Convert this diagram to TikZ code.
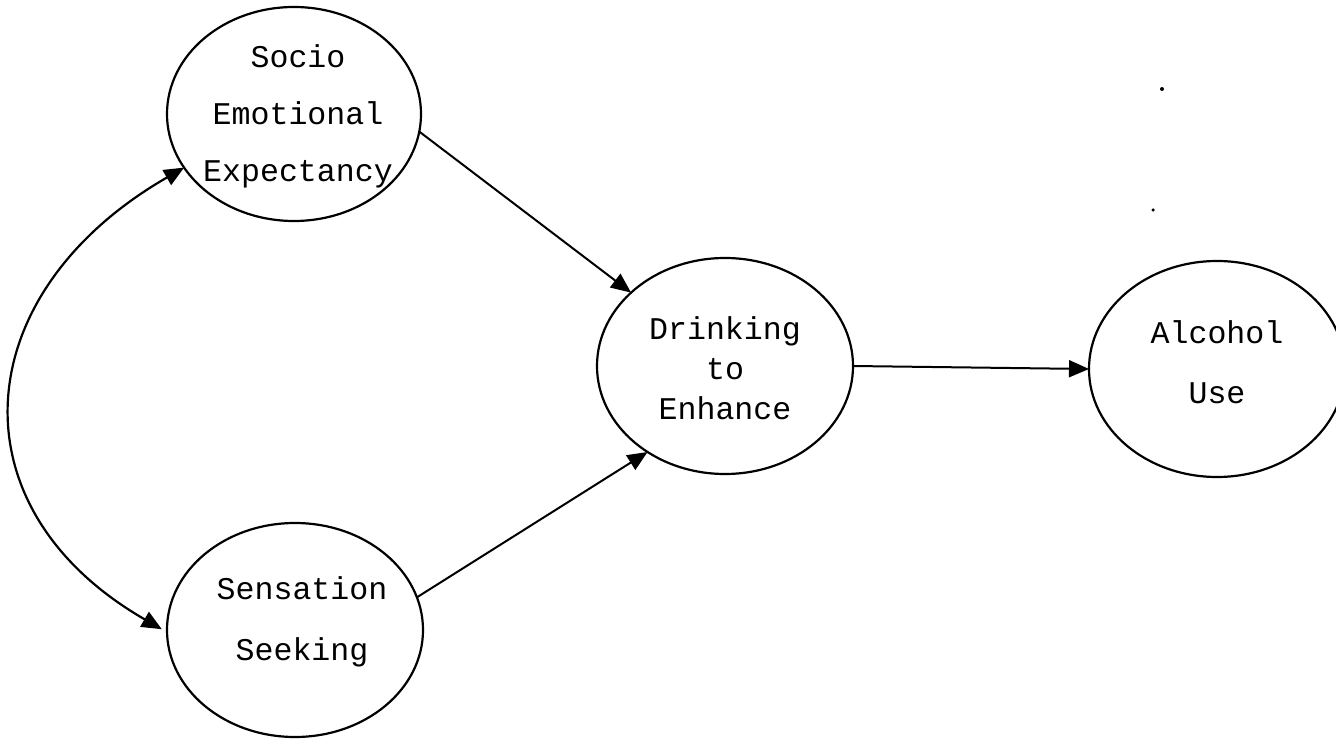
\documentclass[tikz,border=0pt]{standalone}
\usepackage{fontspec}
\setmonofont{Liberation Mono}
\usetikzlibrary{shapes.geometric,arrows.meta}
\begin{document}
\begin{tikzpicture}[x=1pt,y=1pt,
  construct/.style={draw, ellipse, line width=2.2pt, inner sep=0pt, outer sep=0pt,
    minimum width=256pt, minimum height=214pt},
  caption/.style={align=center, font=\ttfamily\fontsize{31.6}{57}\selectfont},
  path/.style={line width=2pt, -{Triangle[length=20pt,width=17pt]}},
  twoway/.style={line width=2.2pt, {Triangle[length=20pt,width=17pt]}-{Triangle[length=20pt,width=17pt]}},
  speck/.style={fill, circle, inner sep=0pt, minimum size=4pt}]
\useasboundingbox (0,0) rectangle (1336,740);

% latent constructs
\node[construct, minimum width=254pt] (se) at (294,626) {};
\node[construct] (ss) at (295,110) {};
\node[construct, minimum height=216pt] (dr) at (725,374) {};
\node[construct, minimum height=216pt] (au) at (1217,371) {};

% labels
\node[caption] (tse) at (298,624) {Socio\\Emotional\\Expectancy};
\node[caption, font=\ttfamily\fontsize{31.6}{61}\selectfont] (tss) at (302,118) {Sensation\\Seeking};
\node[caption, font=\ttfamily\fontsize{31.6}{40}\selectfont] (tdr) at (725,372) {Drinking\\to\\Enhance};
\node[caption, font=\ttfamily\fontsize{31.6}{60}\selectfont] (tau) at (1217,378) {Alcohol\\Use};

% paths
\draw[path] (se.-8.5) -- (dr.142.5);
\draw[path] (ss.15.8) -- (dr.228.7);
\draw[path] (dr.east) -- (au.west);

% correlation between the two predictors
\draw[twoway, shorten >=6pt] (se.206) .. controls +(-217,-125) and +(-217,125) .. (ss.181);

% stray marks
\node[speck] (d1) at (1162,651) {};
\node[speck, minimum size=3.5pt] (d2) at (1153,530) {};
\end{tikzpicture}
\end{document}
